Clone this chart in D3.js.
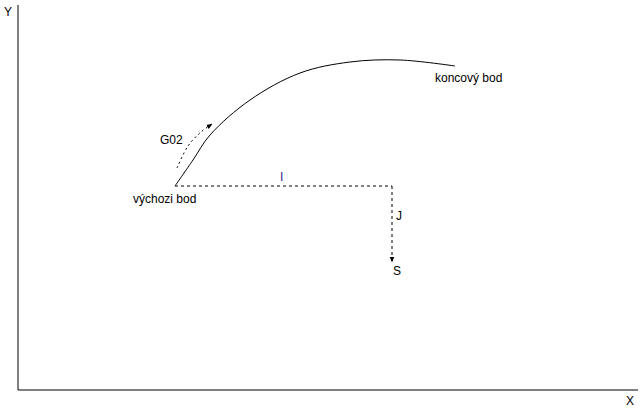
<!DOCTYPE html><html><head><meta charset="utf-8"><script src="https://cdn.jsdelivr.net/npm/d3@7"></script>
<style>body{margin:0;background:#fff}text{font-family:"Liberation Sans",Arial,sans-serif;font-size:12px}</style></head><body>
<script>
// data in diagram units (origin at axes corner)
const arcPts=[[157,204],[175,230],[192,255],[232,290],[282,317],[332,328],[382,330],[437,324]];
const g02Pts=[[159,222],[170,244],[183,258],[194,266]];
const iPath=[[157,204],[374,204]];
const jPath=[[374,204],[374,128]];
const labels=[
 {t:"Y",x:-14,y:374,c:"#000"},{t:"X",x:608,y:-15,c:"#000"},
 {t:"G02",x:142,y:246,c:"#000"},{t:"výchozi bod",x:115,y:187,c:"#000"},
 {t:"koncový bod",x:417,y:308,c:"#000"},{t:"I",x:262,y:209,c:"#3a2a8a"},
 {t:"J",x:378,y:170,c:"#000"},{t:"S",x:375,y:115,c:"#000"}];
const W=640,H=415;
const x=d3.scaleLinear().domain([0,620]).range([18,638]);
const y=d3.scaleLinear().domain([0,385]).range([390,5]);
const svg=d3.select("body").append("svg").attr("width",W).attr("height",H);
svg.append("defs").append("marker").attr("id","ah").attr("viewBox","0 0 10 10").attr("refX",9).attr("refY",5)
 .attr("markerWidth",6).attr("markerHeight",6).attr("orient","auto").append("path").attr("d","M0,1L10,5L0,9z");
svg.append("line").attr("x1",x(0)).attr("x2",x(0)).attr("y1",y(0)).attr("y2",y(385)).attr("stroke","#000");
svg.append("line").attr("x1",x(0)).attr("x2",x(620)).attr("y1",y(0)).attr("y2",y(0)).attr("stroke","#000");
const line=d3.line().x(d=>x(d[0])).y(d=>y(d[1]));
svg.append("path").attr("d",line.curve(d3.curveCatmullRom)(arcPts)).attr("fill","none").attr("stroke","#000");
svg.append("path").attr("d",line.curve(d3.curveCatmullRom)(g02Pts)).attr("fill","none").attr("stroke","#000").attr("stroke-dasharray","2,3").attr("marker-end","url(#ah)");
svg.append("path").attr("d",line.curve(d3.curveLinear)(iPath)).attr("fill","none").attr("stroke","#000").attr("stroke-dasharray","3,3");
svg.append("path").attr("d",line.curve(d3.curveLinear)(jPath)).attr("fill","none").attr("stroke","#000").attr("stroke-dasharray","3,3").attr("marker-end","url(#ah)");
svg.selectAll("text.l").data(labels).enter().append("text").attr("x",d=>x(d.x)).attr("y",d=>y(d.y)).attr("fill",d=>d.c).text(d=>d.t);
</script></body></html>
